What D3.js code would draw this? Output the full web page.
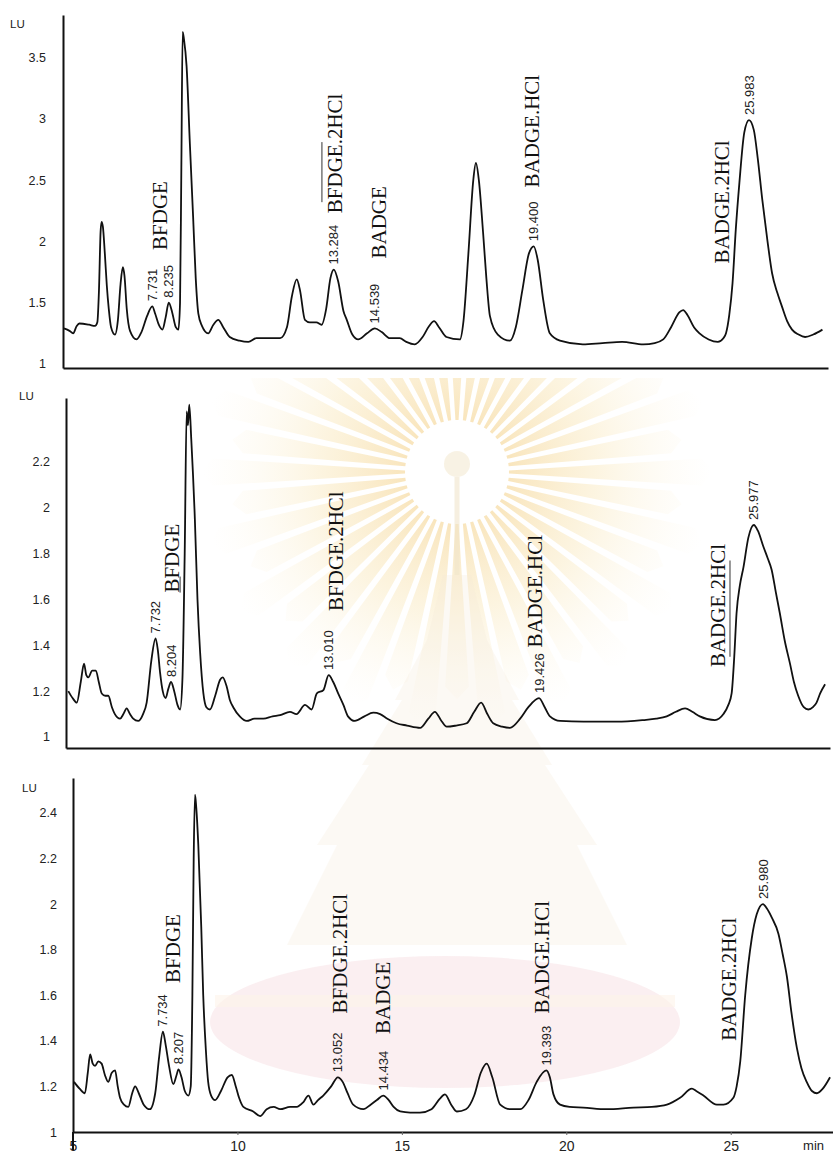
<!DOCTYPE html>
<html>
<head>
<meta charset="utf-8">
<script src="https://cdn.jsdelivr.net/npm/d3@7"></script>
<style>
  html, body { margin: 0; padding: 0; background: #fff; }
  svg { display: block; }
</style>
</head>
<body>
<svg id="chart" width="833" height="1157"></svg>
<script>
// ---- Fluorescence traces: [retention time (min), signal (LU)] ----
const traceA = [
  [5.03,1.29],[5.2,1.27],[5.31,1.25],[5.42,1.31],[5.5,1.33],[5.8,1.32],[5.98,1.31],[6.05,1.34],
  [6.1,1.6],[6.15,2.08],[6.18,2.16],[6.22,2.12],[6.28,1.9],[6.34,1.64],[6.4,1.45],[6.47,1.3],
  [6.59,1.24],[6.68,1.36],[6.76,1.65],[6.83,1.79],[6.88,1.72],[6.95,1.45],[7.05,1.27],[7.25,1.2],
  [7.4,1.26],[7.57,1.39],[7.731,1.47],[7.82,1.41],[7.93,1.32],[8.04,1.28],[8.14,1.38],[8.235,1.5],
  [8.34,1.42],[8.45,1.3],[8.53,1.28],[8.58,1.5],[8.62,2.6],[8.66,3.71],[8.7,3.65],[8.78,3.43],
  [8.88,2.8],[8.98,2.2],[9.06,1.7],[9.14,1.41],[9.25,1.31],[9.44,1.25],[9.6,1.32],[9.75,1.36],
  [9.9,1.3],[10.1,1.22],[10.4,1.19],[10.67,1.18],[10.92,1.21],[11.3,1.21],[11.64,1.21],[11.85,1.3],
  [12.0,1.55],[12.15,1.69],[12.25,1.6],[12.4,1.36],[12.55,1.34],[12.75,1.34],[12.91,1.32],[13.05,1.45],
  [13.18,1.7],[13.284,1.77],[13.42,1.67],[13.58,1.43],[13.68,1.36],[13.85,1.24],[14.03,1.2],[14.3,1.25],
  [14.539,1.29],[14.75,1.26],[15.0,1.21],[15.3,1.21],[15.5,1.18],[15.76,1.16],[16.0,1.22],[16.2,1.31],
  [16.35,1.35],[16.5,1.3],[16.73,1.22],[17.14,1.2],[17.25,1.35],[17.4,1.9],[17.55,2.5],[17.63,2.64],
  [17.72,2.5],[17.85,2.07],[17.95,1.7],[18.06,1.39],[18.3,1.24],[18.67,1.19],[18.85,1.3],[19.05,1.6],
  [19.25,1.9],[19.4,1.96],[19.52,1.85],[19.69,1.52],[19.89,1.25],[20.2,1.19],[20.9,1.16],[21.5,1.17],
  [22.1,1.18],[22.75,1.16],[23.1,1.17],[23.36,1.2],[23.6,1.3],[23.85,1.42],[23.97,1.44],[24.1,1.4],
  [24.3,1.3],[24.47,1.25],[24.75,1.2],[25.03,1.18],[25.2,1.21],[25.28,1.25],[25.38,1.4],[25.48,1.66],
  [25.58,2.1],[25.69,2.48],[25.84,2.89],[25.983,2.99],[26.13,2.91],[26.25,2.68],[26.39,2.34],[26.55,2.0],
  [26.69,1.74],[26.85,1.58],[26.99,1.47],[27.15,1.35],[27.3,1.28],[27.5,1.24],[27.7,1.22],[27.95,1.24],
  [28.23,1.28]
];

const traceB = [
  [5.07,1.2],[5.2,1.17],[5.33,1.15],[5.45,1.24],[5.55,1.32],[5.62,1.27],[5.68,1.26],[5.8,1.29],
  [5.91,1.29],[6.0,1.24],[6.09,1.19],[6.2,1.18],[6.29,1.18],[6.4,1.13],[6.49,1.1],[6.65,1.08],
  [6.75,1.1],[6.85,1.125],[6.95,1.1],[7.05,1.08],[7.2,1.07],[7.35,1.1],[7.46,1.15],[7.6,1.33],
  [7.732,1.43],[7.8,1.38],[7.87,1.28],[7.95,1.2],[8.04,1.17],[8.12,1.21],[8.204,1.24],[8.3,1.2],
  [8.4,1.14],[8.48,1.12],[8.55,1.25],[8.62,1.8],[8.68,2.42],[8.72,2.36],[8.76,2.45],[8.82,2.3],
  [8.93,1.95],[9.01,1.6],[9.09,1.37],[9.19,1.19],[9.28,1.13],[9.39,1.12],[9.55,1.18],[9.7,1.25],
  [9.78,1.26],[9.9,1.22],[10.0,1.16],[10.1,1.13],[10.3,1.09],[10.51,1.07],[10.75,1.08],[11.02,1.08],
  [11.3,1.09],[11.53,1.095],[11.83,1.11],[12.03,1.1],[12.29,1.14],[12.49,1.12],[12.65,1.19],[12.85,1.205],
  [13.01,1.27],[13.15,1.24],[13.3,1.19],[13.46,1.14],[13.6,1.09],[13.81,1.07],[14.1,1.09],[14.37,1.106],
  [14.58,1.1],[14.8,1.08],[15.08,1.06],[15.4,1.05],[15.8,1.04],[16.05,1.08],[16.25,1.11],[16.45,1.07],
  [16.61,1.045],[16.9,1.05],[17.22,1.06],[17.45,1.11],[17.66,1.15],[17.85,1.1],[18.03,1.06],[18.3,1.045],
  [18.54,1.04],[18.85,1.08],[19.1,1.13],[19.426,1.17],[19.6,1.13],[19.76,1.09],[20.07,1.07],[20.78,1.067],
  [21.8,1.067],[22.6,1.074],[23.0,1.08],[23.32,1.09],[23.6,1.11],[23.88,1.125],[24.1,1.11],[24.33,1.09],
  [24.79,1.074],[25.05,1.1],[25.2,1.14],[25.3,1.19],[25.38,1.35],[25.45,1.54],[25.55,1.66],[25.66,1.74],
  [25.81,1.87],[25.977,1.925],[26.1,1.9],[26.27,1.83],[26.4,1.78],[26.52,1.73],[26.65,1.63],[26.77,1.54],
  [26.92,1.42],[27.08,1.32],[27.2,1.24],[27.33,1.18],[27.5,1.13],[27.64,1.12],[27.78,1.13],[27.89,1.15],
  [28.0,1.19],[28.15,1.23]
];

const traceC = [
  [5.03,1.22],[5.2,1.19],[5.36,1.17],[5.45,1.26],[5.52,1.34],[5.6,1.3],[5.67,1.29],[5.77,1.31],
  [5.87,1.3],[5.97,1.25],[6.07,1.22],[6.18,1.26],[6.28,1.27],[6.36,1.2],[6.43,1.15],[6.55,1.12],
  [6.68,1.11],[6.8,1.17],[6.89,1.2],[7.0,1.17],[7.15,1.12],[7.34,1.1],[7.5,1.17],[7.62,1.33],
  [7.734,1.44],[7.82,1.38],[7.92,1.29],[8.05,1.21],[8.15,1.25],[8.207,1.275],[8.3,1.24],[8.4,1.18],
  [8.51,1.16],[8.58,1.2],[8.63,1.6],[8.67,2.2],[8.71,2.48],[8.75,2.42],[8.81,2.26],[8.9,1.9],
  [8.96,1.6],[9.04,1.36],[9.11,1.22],[9.2,1.16],[9.32,1.14],[9.5,1.18],[9.7,1.24],[9.83,1.25],
  [9.95,1.2],[10.05,1.15],[10.18,1.11],[10.48,1.09],[10.69,1.07],[10.89,1.1],[11.1,1.11],[11.3,1.1],
  [11.6,1.11],[11.8,1.11],[12.0,1.13],[12.16,1.16],[12.31,1.12],[12.45,1.14],[12.61,1.16],[12.85,1.2],
  [13.052,1.24],[13.2,1.22],[13.35,1.17],[13.52,1.12],[13.83,1.1],[14.05,1.12],[14.24,1.14],[14.434,1.16],
  [14.6,1.14],[14.75,1.11],[14.95,1.09],[15.25,1.085],[15.55,1.085],[15.9,1.1],[16.15,1.145],[16.31,1.165],
  [16.5,1.12],[16.67,1.09],[16.95,1.1],[17.2,1.16],[17.4,1.26],[17.58,1.3],[17.75,1.24],[17.99,1.12],
  [18.3,1.1],[18.6,1.1],[18.85,1.14],[19.1,1.22],[19.393,1.27],[19.5,1.24],[19.61,1.165],[19.81,1.12],
  [20.1,1.11],[20.52,1.107],[21.23,1.1],[22.04,1.107],[22.6,1.11],[23.06,1.12],[23.46,1.15],[23.82,1.19],
  [23.95,1.18],[24.17,1.16],[24.58,1.12],[24.78,1.12],[25.08,1.15],[25.18,1.2],[25.29,1.31],[25.44,1.6],
  [25.64,1.85],[25.79,1.955],[25.98,2.0],[26.1,1.98],[26.25,1.94],[26.45,1.87],[26.58,1.78],[26.71,1.68],
  [26.85,1.52],[27.01,1.37],[27.15,1.28],[27.31,1.22],[27.47,1.18],[27.62,1.17],[27.8,1.19],[28.02,1.24]
];

// ---- Integrated peaks (retention times printed above each apex) ----
const peaksA = [7.731, 8.235, 13.284, 14.539, 19.4, 25.983];
const peaksB = [7.732, 8.204, 13.01, 19.426, 25.977];
const peaksC = [7.734, 8.207, 13.052, 14.434, 19.393, 25.98];
const peakTextA = ["7.731", "8.235", "13.284", "14.539", "19.400", "25.983"];
const peakTextB = ["7.732", "8.204", "13.010", "19.426", "25.977"];
const peakTextC = ["7.734", "8.207", "13.052", "14.434", "19.393", "25.980"];

// ---- Compound names: [name, time, LU] where the text starts ----
const namesA = [["BFDGE",7.97,1.93],["BFDGE.2HCl",13.32,2.23],["BADGE",14.64,1.86],["BADGE.HCl",19.35,2.44],["BADGE.2HCl",25.16,1.82]];
const namesB = [["BFDGE",8.23,1.63],["BFDGE.2HCl",13.23,1.55],["BADGE.HCl",19.3,1.39],["BADGE.2HCl",24.88,1.305]];
const namesC = [["BFDGE",8.04,1.654],["BFDGE.2HCl",13.12,1.52],["BADGE",14.43,1.43],["BADGE.HCl",19.26,1.52],["BADGE.2HCl",24.95,1.4]];

// short pen rules next to some names: [time, LU from, LU to]
const rulesA = [[12.92,2.32,2.81]];
const rulesB = [[8.48,1.63,1.70],[25.25,1.35,1.77]];
const rulesC = [];

// ---- Axis ticks ----
const yTicksA = [1, 1.5, 2, 2.5, 3, 3.5];
const yTicksB = [1, 1.2, 1.4, 1.6, 1.8, 2, 2.2];
const yTicksC = [1, 1.2, 1.4, 1.6, 1.8, 2, 2.2, 2.4];
const xTicks = [5, 10, 15, 20, 25];
const xUnit = "min";
const yUnit = "LU";

// ---- Layout of the three stacked panels ----
const panels = [
  { trace: traceA, peaks: peaksA, peakText: peakTextA, names: namesA, rules: rulesA, yTicks: yTicksA,
    xDomain: [5, 28.4], xRange: [63, 828], yDomain: [0.967, 3.847], yRange: [368, 15],
    unitPos: [10, 28], tickPad: 17, showX: false },
  { trace: traceB, peaks: peaksB, peakText: peakTextB, names: namesB, rules: rulesB, yTicks: yTicksB,
    xDomain: [5, 28.3], xRange: [66, 830], yDomain: [0.952, 2.479], yRange: [748, 398],
    unitPos: [19, 400], tickPad: 16, showX: false },
  { trace: traceC, peaks: peaksC, peakText: peakTextC, names: namesC, rules: rulesC, yTicks: yTicksC,
    xDomain: [5, 28.11], xRange: [73, 833], yDomain: [1, 2.553], yRange: [1132, 778],
    unitPos: [22, 792], tickPad: 16, showX: true }
];

const svg = d3.select("#chart");
const defs = svg.append("defs");

// ---- faint emblem printed behind the lower two panels ----
const ecx = 457, ecy = 472;
const grad = defs.append("radialGradient")
  .attr("id", "rayFade").attr("gradientUnits", "userSpaceOnUse")
  .attr("cx", ecx).attr("cy", ecy).attr("r", 255);
grad.append("stop").attr("offset", 0.2).attr("stop-color", "#f0c160").attr("stop-opacity", 0.42);
grad.append("stop").attr("offset", 0.55).attr("stop-color", "#f6dc9a").attr("stop-opacity", 0.3);
grad.append("stop").attr("offset", 1).attr("stop-color", "#fbf0d4").attr("stop-opacity", 0);
defs.append("clipPath").attr("id", "emblemClip")
  .append("rect").attr("x", 0).attr("y", 378).attr("width", 833).attr("height", 779);

const emblem = svg.append("g").attr("class", "emblem").attr("clip-path", "url(#emblemClip)");
const rayCount = 44;
const rayPath = d3.range(rayCount).map(i => {
  const a = (i / rayCount) * 2 * Math.PI;
  const r0 = 52, r1 = i % 2 ? 215 : 245;
  const w0 = 0.03, w1 = 0.055;
  const p = (r, ang) => [ecx + r * Math.cos(ang), ecy + r * Math.sin(ang)];
  const pts = [p(r0, a - w0), p(r1, a - w1), p(r1 + 12, a), p(r1, a + w1), p(r0, a + w0)];
  return "M" + pts.map(q => q.join(",")).join("L") + "Z";
}).join("");
emblem.append("path").attr("d", rayPath).attr("fill", "url(#rayFade)");
emblem.append("circle").attr("cx", ecx).attr("cy", ecy).attr("r", 50).attr("fill", "#fff");
emblem.append("circle").attr("cx", ecx).attr("cy", ecy - 8).attr("r", 13)
  .attr("fill", "#f4ead2").attr("opacity", 0.6);
emblem.append("line").attr("x1", ecx).attr("x2", ecx).attr("y1", ecy + 5).attr("y2", 575)
  .attr("stroke", "#f1e6cc").attr("stroke-width", 5).attr("opacity", 0.6);

// tiered body of the emblem below the sun disk
const tiers = [[575, 640, 14, 30], [640, 700, 30, 62], [700, 765, 55, 95], [765, 845, 88, 140], [845, 945, 120, 170]];
emblem.selectAll("path.tier").data(tiers).join("path")
  .attr("class", "tier")
  .attr("d", ([t, b, w0, w1]) => `M${ecx - w0},${t}L${ecx + w0},${t}L${ecx + w1},${b}L${ecx - w1},${b}Z`)
  .attr("fill", "#f3ebd9").attr("opacity", 0.28);
emblem.append("ellipse").attr("cx", 445).attr("cy", 1022).attr("rx", 235).attr("ry", 66)
  .attr("fill", "#f7dbe1").attr("opacity", 0.45);
emblem.append("rect").attr("x", 215).attr("y", 995).attr("width", 460).attr("height", 12)
  .attr("fill", "#fdf3ea").attr("opacity", 0.6);

// ---- chromatograms ----
panels.forEach(p => {
  const x = d3.scaleLinear().domain(p.xDomain).range(p.xRange);
  const y = d3.scaleLinear().domain(p.yDomain).range(p.yRange);
  const g = svg.append("g");
  const apex = t => p.trace.find(d => d[0] === t)[1];

  // signal axis
  const yAxis = g.append("g")
    .attr("transform", `translate(${p.xRange[0]},0)`)
    .call(d3.axisLeft(y).tickValues(p.yTicks).tickSize(0).tickSizeOuter(0)
      .tickPadding(p.tickPad).tickFormat(d3.format("")));
  yAxis.select(".domain").attr("stroke", "#111").attr("stroke-width", 2);
  yAxis.selectAll("text").attr("font-family", "'Liberation Sans', Arial, sans-serif")
    .attr("font-size", 12.5).attr("fill", "#222");

  // time axis
  const xAxis = g.append("g")
    .attr("transform", `translate(0,${p.yRange[0]})`)
    .call(d3.axisBottom(x).tickValues(p.showX ? xTicks : []).tickSize(3).tickSizeOuter(0)
      .tickPadding(6).tickFormat(d3.format("")));
  xAxis.select(".domain").attr("stroke", "#111").attr("stroke-width", 2);
  xAxis.selectAll(".tick line").attr("stroke", "#666");
  xAxis.selectAll("text").attr("font-family", "'Liberation Sans', Arial, sans-serif")
    .attr("font-size", 14).attr("fill", "#222");

  if (p.showX) {
    g.append("line")
      .attr("x1", p.xRange[0]).attr("x2", p.xRange[0])
      .attr("y1", p.yRange[0]).attr("y2", p.yRange[0] + 18)
      .attr("stroke", "#111").attr("stroke-width", 2);
    g.append("text")
      .attr("x", x(27.2)).attr("y", p.yRange[0] + 9).attr("dy", "0.71em")
      .attr("font-family", "'Liberation Sans', Arial, sans-serif")
      .attr("font-size", 13).attr("fill", "#222")
      .text(xUnit);
  }

  g.append("text")
    .attr("x", p.unitPos[0]).attr("y", p.unitPos[1])
    .attr("font-family", "'Liberation Sans', Arial, sans-serif")
    .attr("font-size", 11.5).attr("fill", "#222")
    .text(yUnit);

  // signal trace
  const line = d3.line()
    .x(d => x(d[0])).y(d => y(d[1]))
    .curve(d3.curveMonotoneX);
  g.append("path")
    .datum(p.trace)
    .attr("d", line)
    .attr("fill", "none")
    .attr("stroke", "#111")
    .attr("stroke-width", 1.8)
    .attr("stroke-linejoin", "round");

  // retention-time labels above apexes
  g.selectAll("text.rt").data(p.peaks).join("text")
    .attr("class", "rt")
    .attr("transform", (t) => `translate(${x(t)},${y(apex(t)) - 5}) rotate(-90)`)
    .attr("dy", "0.35em")
    .attr("font-family", "'Liberation Sans', Arial, sans-serif")
    .attr("font-size", 13).attr("fill", "#222")
    .text((t, i) => p.peakText[i]);

  // compound names
  g.selectAll("text.name").data(p.names).join("text")
    .attr("class", "name")
    .attr("transform", d => `translate(${x(d[1])},${y(d[2])}) rotate(-90)`)
    .attr("dy", "0.35em")
    .attr("font-family", "'Liberation Serif', 'Times New Roman', serif")
    .attr("font-size", 21).attr("fill", "#111")
    .text(d => d[0]);

  g.selectAll("line.rule").data(p.rules).join("line")
    .attr("class", "rule")
    .attr("x1", d => x(d[0])).attr("x2", d => x(d[0]))
    .attr("y1", d => y(d[1])).attr("y2", d => y(d[2]))
    .attr("stroke", "#333").attr("stroke-width", 1);
});
</script>
</body>
</html>
